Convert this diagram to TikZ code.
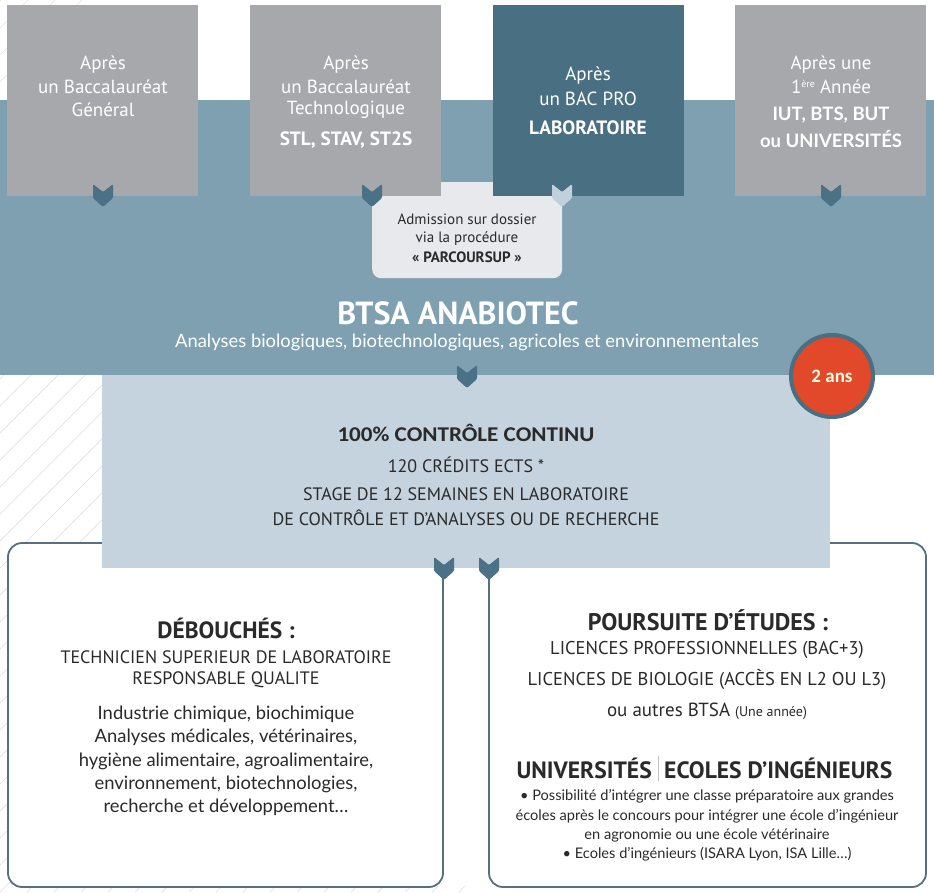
\documentclass[tikz,border=0pt]{standalone}
\usepackage{fontspec}
\setmainfont{PT Sans}
\newfontfamily\carl[FakeStretch=1.1]{Carlito}
\newfontfamily\carln{Carlito}
\newfontfamily\lato{Lato}
\definecolor{band}{HTML}{7EA0B1}
\definecolor{gbox}{HTML}{A7A8AB}
\definecolor{teal}{HTML}{486F82}
\definecolor{lblue}{HTML}{C5D3DF}
\definecolor{adm}{HTML}{E8E9EC}
\definecolor{chev}{HTML}{4A7186}
\definecolor{chevl}{HTML}{C0D0DD}
\definecolor{bord}{HTML}{56707F}
\definecolor{orng}{HTML}{E2482A}
\definecolor{ink}{HTML}{2A2A2A}
\definecolor{hatch}{HTML}{E2E2E2}
\tikzset{
  chevron/.pic={\fill[pic actions, rounded corners=1.2pt] (-10,0) -- (0,8) -- (10,0) -- (10,14) -- (0,23) -- (-10,14) -- cycle;},
  topbox/.style={minimum width=191pt, minimum height=191pt, inner sep=0pt, anchor=north west},
  wt/.style={text=white, inner sep=0pt, font=\fontsize{19}{22}\selectfont},
  wtb/.style={text=white, inner sep=0pt, font=\fontsize{19.3}{22}\selectfont\bfseries},
  dk/.style={text=ink, inner sep=0pt},
  caps/.style={dk, font=\fontsize{18}{21}\selectfont},
  body/.style={dk, font=\lato\fontsize{18.4}{21}\selectfont},
  small/.style={dk, font=\lato\fontsize{14.6}{17}\selectfont},
  outbox/.style={draw=bord, line width=1.8pt, fill=white, rounded corners=14pt},
}
\begin{document}
\begin{tikzpicture}[x=1pt,y=-1pt]
\useasboundingbox (0,0) rectangle (934,892);
\fill[white] (0,0) rectangle (934,892);
% hatching
\begin{scope}
\clip (0,0) rectangle (102,892) (0,886) rectangle (470,892);
\foreach \i in {-40,...,20} \draw[hatch, line width=0.7pt] (\i*27,892) -- ++(892,-892);
\end{scope}
% band
\fill[band] (0,100) rectangle (934,375);
% admission box
\node[fill=adm, rounded corners=9pt, minimum width=190pt, minimum height=96pt, anchor=north west, inner sep=0pt] (adm) at (372,182) {};
% top boxes
\node[topbox, fill=gbox] (b1) at (7,5) {};
\node[topbox, fill=gbox] (b2) at (250,5) {};
\node[topbox, fill=teal] (b3) at (493,5) {};
\node[topbox, fill=gbox] (b4) at (735,5) {};
% chevrons
\pic[fill=chev] (c1) at (103,184) {chevron};
\pic[fill=chev] (c2) at (372,184) {chevron};
\pic[fill=chevl] (c3) at (562,184) {chevron};
\pic[fill=chev] (c4) at (831,184) {chevron};
% top texts
\node[wt] (t1a) at (103,65) {Après};
\node[wt] (t1b) at (103,87) {un Baccalauréat};
\node[wt] (t1c) at (103,110) {Général};
\node[wt] (t2a) at (346,65) {Après};
\node[wt] (t2b) at (346,87) {un Baccalauréat};
\node[wt] (t2c) at (346,110) {Technologique};
\node[wtb] (t2d) at (346,140) {STL, STAV, ST2S};
\node[wt] (t3a) at (588,76) {Après};
\node[wt] (t3b) at (588,99) {un BAC PRO};
\node[wtb] (t3c) at (588,128) {LABORATOIRE};
\node[wt] (t4a) at (831,65) {Après une};
\node[wt] (t4b) at (831,87) {1\raisebox{6pt}{\fontsize{10}{10}\selectfont ère} Année};
\node[wtb, font=\lato\fontsize{18.5}{22}\selectfont\bfseries] (t4c) at (831,115) {IUT, BTS, BUT};
\node[wtb, font=\lato\fontsize{18.5}{22}\selectfont\bfseries] (t4d) at (831,139) {ou UNIVERSITÉS};
% admission text
\node[dk, font=\fontsize{15}{17}\selectfont] (a1) at (467,219) {Admission sur dossier};
\node[dk, font=\fontsize{15}{17}\selectfont] (a2) at (467,239) {via la procédure};
\node[dk, font=\fontsize{15}{17}\selectfont\bfseries] (a3) at (467,257) {« PARCOURSUP »};
% band texts
\node[text=white, inner sep=0pt, font=\fontsize{32}{35}\selectfont\bfseries] (btsa) at (458,313) {BTSA ANABIOTEC};
\node[text=white, inner sep=0pt, font=\lato\fontsize{18.4}{21}\selectfont] (sub) at (467,342) {Analyses biologiques, biotechnologiques, agricoles et environnementales};
% bottom boxes
\draw[outbox] (8,543) rectangle (443,887);
\draw[outbox] (489,543) rectangle (926,887);
% light blue box
\fill[lblue] (102,375) rectangle (830,568);
\pic[fill=chev] (c5) at (467,365) {chevron};
% circle
\node[circle, fill=orng, draw=teal, line width=4pt, minimum size=82pt, inner sep=0pt, text=white!88!yellow, font=\carln\fontsize{19}{22}\selectfont\bfseries] (ans) at (832,376) {2 ans};
% light blue texts
\node[dk, font=\carl\fontsize{21}{24}\selectfont\bfseries] (l1) at (466,433) {100\% CONTRÔLE CONTINU};
\node[caps] (l2) at (466,465) {120 CRÉDITS ECTS *};
\node[caps] (l3) at (466,494) {STAGE DE 12 SEMAINES EN LABORATOIRE};
\node[caps] (l4) at (466,518) {DE CONTRÔLE ET D’ANALYSES OU DE RECHERCHE};
% bottom chevrons
\pic[fill=chev] (c6) at (444,557) {chevron};
\pic[fill=chev] (c7) at (489,557) {chevron};
% left box texts
\node[dk, font=\fontsize{23.5}{26}\selectfont\bfseries] (d1) at (226,628) {DÉBOUCHÉS :};
\node[caps] (d2) at (226,657) {TECHNICIEN SUPERIEUR DE LABORATOIRE};
\node[caps] (d3) at (226,680) {RESPONSABLE QUALITE};
\node[body] (d4) at (226,714) {Industrie chimique, biochimique};
\node[body] (d5) at (226,737) {Analyses médicales, vétérinaires,};
\node[body] (d6) at (226,761) {hygiène alimentaire, agroalimentaire,};
\node[body] (d7) at (226,784) {environnement, biotechnologies,};
\node[body] (d8) at (226,807) {recherche et développement…};
% right box texts
\node[dk, font=\fontsize{24}{27}\selectfont\bfseries] (p1) at (708,620) {POURSUITE D’ÉTUDES :};
\node[caps, font=\fontsize{18.5}{21}\selectfont] (p2) at (707,650) {LICENCES PROFESSIONNELLES (BAC+3)};
\node[caps, font=\fontsize{18.5}{21}\selectfont] (p3) at (707,679) {LICENCES DE BIOLOGIE (ACCÈS EN L2 OU L3)};
\node[dk, font=\fontsize{19}{22}\selectfont] (p4) at (707,711) {ou autres BTSA {\fontsize{14}{16}\selectfont(Une année)}};
\node[dk, font=\fontsize{23.6}{26}\selectfont\bfseries, anchor=east] (u1) at (652,768) {UNIVERSITÉS};
\node[dk, font=\fontsize{23.6}{26}\selectfont\bfseries, anchor=west] (u2) at (664,768) {ECOLES D’INGÉNIEURS};
\draw[gbox!70, line width=1pt] (658,756) -- (658,781);
\node[small] (e1) at (707,796) {• Possibilité d’intégrer une classe préparatoire aux grandes};
\node[small] (e2) at (707,816) {écoles après le concours pour intégrer une école d’ingénieur};
\node[small] (e3) at (707,835) {en agronomie ou une école vétérinaire};
\node[small] (e4) at (707,854) {• Ecoles d’ingénieurs (ISARA Lyon, ISA Lille…)};
\end{tikzpicture}
\end{document}
